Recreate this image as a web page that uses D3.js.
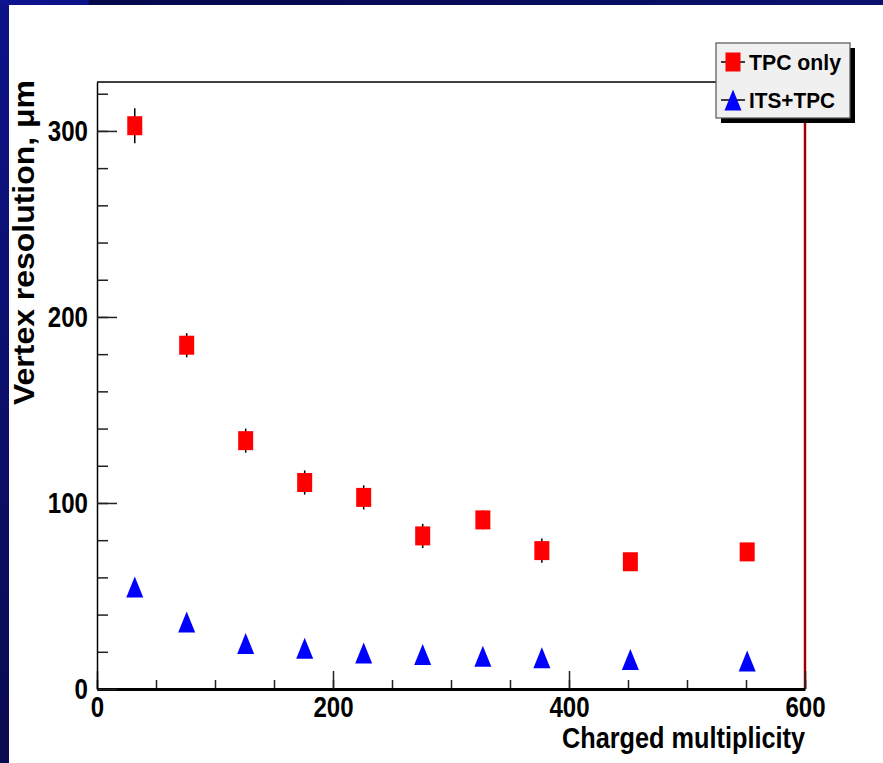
<!DOCTYPE html>
<html>
<head>
<meta charset="utf-8">
<script src="https://cdn.jsdelivr.net/npm/d3@7"></script>
<style>
  html, body { margin: 0; padding: 0; background: #fff; }
  svg { display: block; }
  text { font-family: "Liberation Sans", Arial, Helvetica, sans-serif; font-weight: bold; }
</style>
</head>
<body>
<script>
// ---- Data ----
const multiplicity = [32, 76, 126, 176, 226, 276, 327, 377, 452, 551];
const tpcOnly      = [302.8, 184.8, 133.5, 111.0, 103.0, 82.3, 90.9, 74.4, 68.4, 73.7];
const tpcOnlyErr   = [9.4, 6.5, 6.5, 6.5, 6.5, 6.5, 5.0, 6.5, 4.0, 4.0];
const itsTpc       = [54.8, 36.0, 24.4, 21.9, 19.4, 18.5, 17.6, 16.8, 15.8, 15.0];
const seriesNames  = ["TPC only", "ITS+TPC"];
const xMajorTicks  = [0, 200, 400, 600];
const yMajorTicks  = [0, 100, 200, 300];
const xTitle = "Charged multiplicity";
const yTitle = "Vertex resolution, \u03bcm";

const W = 883, H = 763;
const svg = d3.select("body").append("svg").attr("width", W).attr("height", H);

// horizontally condense text (narrow bold font look)
function squeeze(sel, factor) {
  sel.each(function () {
    const w = this.getComputedTextLength();
    d3.select(this).attr("textLength", w * factor).attr("lengthAdjust", "spacingAndGlyphs");
  });
}

// background frame (slide style)
const defs = svg.append("defs");
const gTop = defs.append("linearGradient").attr("id", "gtop").attr("x1", 0).attr("x2", 1).attr("y1", 0).attr("y2", 0);
gTop.append("stop").attr("offset", 0).attr("stop-color", "#0e1490");
gTop.append("stop").attr("offset", 0.1).attr("stop-color", "#0c1288");
gTop.append("stop").attr("offset", 0.101).attr("stop-color", "#05084a");
gTop.append("stop").attr("offset", 0.6).attr("stop-color", "#080c5c");
gTop.append("stop").attr("offset", 1).attr("stop-color", "#0c1170");
const gLeft = defs.append("linearGradient").attr("id", "gleft").attr("x1", 0).attr("x2", 0).attr("y1", 0).attr("y2", 1);
gLeft.append("stop").attr("offset", 0).attr("stop-color", "#0d1388");
gLeft.append("stop").attr("offset", 1).attr("stop-color", "#0a0b50");
svg.append("rect").attr("x", 0).attr("y", 0).attr("width", W).attr("height", H).attr("fill", "#fff");
svg.append("rect").attr("x", 0).attr("y", 0).attr("width", 9).attr("height", H).attr("fill", "url(#gleft)");
svg.append("rect").attr("x", 0).attr("y", 0).attr("width", W).attr("height", 5).attr("fill", "url(#gtop)");

// scales
const L = 97, R = 805, T = 82, B = 689;
const x = d3.scaleLinear().domain([0, 600]).range([L, R]);
const y = d3.scaleLinear().domain([0, 326.3]).range([B, T]);

// frame: top and right
svg.append("line").attr("x1", L).attr("x2", R).attr("y1", T).attr("y2", T).attr("stroke", "#000").attr("stroke-width", 1.5);
svg.append("line").attr("x1", R).attr("x2", R).attr("y1", T).attr("y2", B).attr("stroke", "#ff0000").attr("stroke-width", 2.5);
svg.append("line").attr("x1", R).attr("x2", R).attr("y1", T).attr("y2", B).attr("stroke", "#000").attr("stroke-width", 0.8);

// minor ticks
svg.append("g").attr("transform", `translate(0,${B})`)
  .call(d3.axisBottom(x).tickValues(d3.range(0, 601, 50)).tickSizeInner(-9).tickSizeOuter(0).tickFormat(""))
  .call(g => g.select(".domain").remove())
  .call(g => g.selectAll(".tick line").attr("stroke", "#222").attr("stroke-width", 1.5));
svg.append("g").attr("transform", `translate(${L},0)`)
  .call(d3.axisLeft(y).tickValues(d3.range(0, 321, 20)).tickSizeInner(-11).tickSizeOuter(0).tickFormat(""))
  .call(g => g.select(".domain").remove())
  .call(g => g.selectAll(".tick line").attr("stroke", "#222").attr("stroke-width", 1.5));

// major ticks + labels
const fontFam = "'Liberation Sans', Arial, sans-serif";
svg.append("g").attr("transform", `translate(0,${B})`)
  .call(d3.axisBottom(x).tickValues(xMajorTicks).tickSizeInner(-18).tickSizeOuter(0).tickPadding(7).tickFormat(d3.format("d")))
  .call(g => g.select(".domain").attr("stroke", "#000").attr("stroke-width", 3))
  .call(g => g.selectAll(".tick line").attr("stroke", "#222").attr("stroke-width", 1.5))
  .call(g => g.selectAll(".tick text").attr("font-size", 29).attr("fill", "#000")
           .attr("font-family", fontFam).attr("font-weight", "bold").call(squeeze, 0.83));
svg.append("g").attr("transform", `translate(${L},0)`)
  .call(d3.axisLeft(y).tickValues(yMajorTicks).tickSizeInner(-20).tickSizeOuter(0).tickPadding(9).tickFormat(d3.format("d")))
  .call(g => g.select(".domain").attr("stroke", "#000").attr("stroke-width", 1.5))
  .call(g => g.selectAll(".tick text").attr("font-size", 29).attr("fill", "#000")
           .attr("font-family", fontFam).attr("font-weight", "bold").call(squeeze, 0.83))
  .call(g => g.selectAll(".tick line").attr("stroke", "#222").attr("stroke-width", 1.5));

// axis titles
svg.append("text").attr("x", R).attr("y", 748).attr("text-anchor", "end")
  .attr("font-size", 29).attr("fill", "#000").text(xTitle)
  .attr("textLength", 243).attr("lengthAdjust", "spacingAndGlyphs");
svg.append("text").attr("transform", `translate(34,${T - 2}) rotate(-90)`).attr("text-anchor", "end")
  .attr("font-size", 29).attr("fill", "#000").text(yTitle)
  .attr("textLength", 325).attr("lengthAdjust", "spacingAndGlyphs");

// error bars (TPC only)
const tpcData = multiplicity.map((m, i) => ({ m, v: tpcOnly[i], e: tpcOnlyErr[i] }));
const itsData = multiplicity.map((m, i) => ({ m, v: itsTpc[i] }));
svg.append("g").selectAll("line").data(tpcData).join("line")
  .attr("x1", d => x(d.m)).attr("x2", d => x(d.m))
  .attr("y1", d => y(d.v - d.e)).attr("y2", d => y(d.v + d.e))
  .attr("stroke", "#000").attr("stroke-width", 1.5);

// markers
const SQW = 15, SQH = 19;
svg.append("g").selectAll("rect").data(tpcData).join("rect")
  .attr("x", d => x(d.m) - SQW / 2).attr("y", d => y(d.v) - SQH / 2)
  .attr("width", SQW).attr("height", SQH).attr("fill", "#ff0000");
const TW = 17, TH = 21;
svg.append("g").selectAll("path").data(itsData).join("path")
  .attr("d", d => { const cx = x(d.m), cy = y(d.v);
    return `M${cx},${cy - TH / 2}L${cx + TW / 2},${cy + TH / 2}L${cx - TW / 2},${cy + TH / 2}Z`; })
  .attr("fill", "#0000ff");

// legend
const lg = svg.append("g");
lg.append("rect").attr("x", 721).attr("y", 48).attr("width", 134).attr("height", 75).attr("fill", "#000");
lg.append("rect").attr("x", 716).attr("y", 43).attr("width", 134).attr("height", 75).attr("fill", "#f0f0f0").attr("stroke", "#555").attr("stroke-width", 1.2);
const rowsY = [62, 100];
seriesNames.forEach((name, i) => {
  const cy = rowsY[i], cx = 733;
  lg.append("line").attr("x1", 721).attr("x2", 745).attr("y1", cy).attr("y2", cy).attr("stroke", "#000").attr("stroke-width", 1.5);
  if (i === 0) {
    lg.append("rect").attr("x", cx - SQW / 2).attr("y", cy - SQH / 2).attr("width", SQW).attr("height", SQH).attr("fill", "#ff0000");
  } else {
    lg.append("path").attr("d", `M${cx},${cy - TH / 2}L${cx + TW / 2},${cy + TH / 2}L${cx - TW / 2},${cy + TH / 2}Z`).attr("fill", "#0000ff");
  }
  lg.append("text").attr("x", 749).attr("y", cy).attr("dy", "0.36em").attr("font-size", 22).attr("fill", "#000").text(name)
    .attr("textLength", i === 0 ? 92 : 86).attr("lengthAdjust", "spacingAndGlyphs");
});
</script>
</body>
</html>
